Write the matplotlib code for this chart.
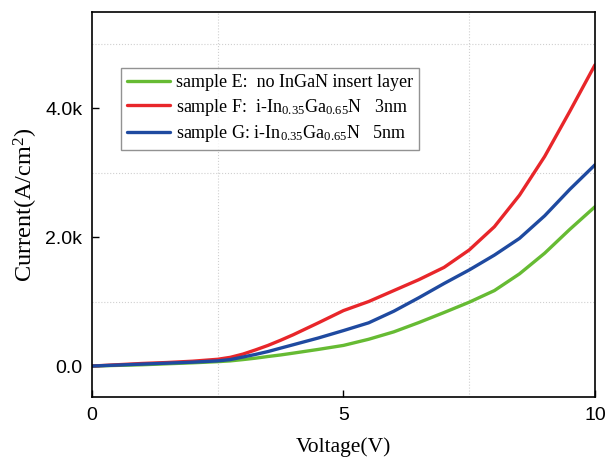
import matplotlib
matplotlib.use("Agg")
import matplotlib.pyplot as plt
from matplotlib.ticker import FuncFormatter, MultipleLocator

plt.rcParams['mathtext.fontset'] = 'custom'
plt.rcParams['mathtext.rm'] = 'Liberation Serif'
plt.rcParams['mathtext.it'] = 'Liberation Serif:italic'

voltage = [0, 0.5, 1, 1.5, 2, 2.5, 2.75, 3, 3.25, 3.5, 3.75, 4, 4.5, 5, 5.5, 6, 6.5, 7, 7.5, 8, 8.5, 9, 9.5, 10]
current_E = [0, 10, 20, 35, 50, 68, 80, 100, 122, 148, 172, 200, 258, 320, 415, 530, 675, 830, 990, 1170, 1430, 1750, 2120, 2470]
current_F = [0, 20, 40, 55, 75, 105, 135, 185, 250, 320, 400, 485, 670, 860, 1000, 1170, 1340, 1530, 1800, 2160, 2650, 3250, 3950, 4670]
current_G = [0, 15, 30, 45, 60, 80, 100, 140, 180, 225, 278, 330, 435, 550, 670, 850, 1060, 1280, 1490, 1720, 1980, 2330, 2740, 3120]

labels = ["sample E:  no InGaN insert layer",
          "sample F:  i-In$_{0.35}$Ga$_{0.65}$N   3nm",
          "sample G: i-In$_{0.35}$Ga$_{0.65}$N   5nm"]
colors = ["#66bb33", "#e8262a", "#1f4aa0"]

fig = plt.figure(figsize=(6.06, 4.58), dpi=100)
ax = fig.add_axes([0.1518, 0.1332, 0.8300, 0.8406])

for y, lab, c in zip([current_E, current_F, current_G], labels, colors):
    ax.plot(voltage, y, color=c, lw=2.4, label=lab, solid_capstyle='round', solid_joinstyle='round')

ax.set_xlim(0, 10)
ax.set_ylim(-480, 5490)
ax.xaxis.set_major_locator(MultipleLocator(5))
ax.xaxis.set_minor_locator(MultipleLocator(2.5))
ax.yaxis.set_major_locator(MultipleLocator(2000))
ax.yaxis.set_minor_locator(MultipleLocator(1000))
ax.yaxis.set_major_formatter(FuncFormatter(lambda v, p: "0.0" if abs(v) < 1e-9 else f"{v/1000:.1f}k"))
ax.xaxis.set_major_formatter(FuncFormatter(lambda v, p: f"{v:g}"))
ax.grid(which='minor', color='#d0d0d0', linestyle=':', linewidth=0.8)
ax.tick_params(which='major', direction='in', length=5, width=1, labelsize=14, pad=7)
ax.tick_params(which='minor', direction='in', length=0)
for lbl in ax.get_xticklabels() + ax.get_yticklabels():
    lbl.set_fontfamily('Liberation Sans')
for s in ax.spines.values():
    s.set_linewidth(1.2)

ax.set_xlabel("Voltage(V)", fontfamily='Liberation Serif', fontsize=15.5, labelpad=10)
ax.set_ylabel("Current(A/cm$^2$)", fontfamily='Liberation Serif', fontsize=17.5, labelpad=4)

leg = ax.legend(loc='upper left', bbox_to_anchor=(0.057, 0.855), prop={'family': 'Liberation Serif', 'size': 13},
                frameon=True, fancybox=False, handlelength=2.4, handletextpad=0.3, borderpad=0.35,
                labelspacing=0.3, borderaxespad=0)
leg.get_frame().set_edgecolor('#777777')
leg.get_frame().set_linewidth(1.0)

fig.savefig("out.png", dpi=100)
